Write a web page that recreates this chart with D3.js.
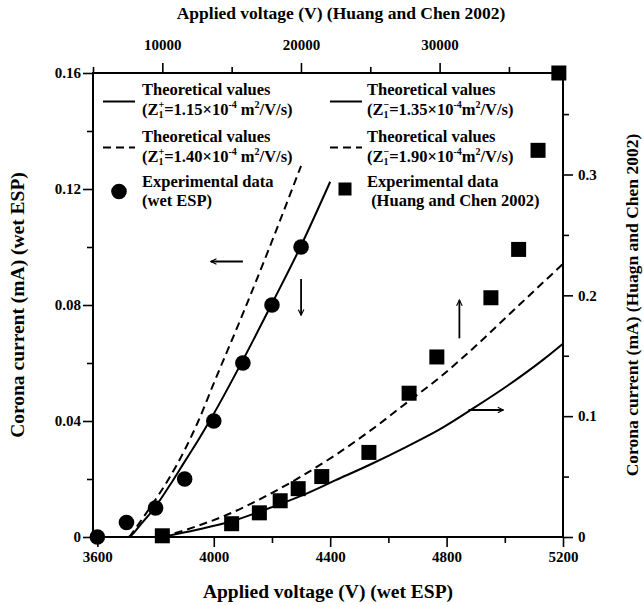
<!DOCTYPE html>
<html><head><meta charset="utf-8">
<script src="https://cdn.jsdelivr.net/npm/d3@7/dist/d3.min.js"></script>
<style>
html,body{margin:0;padding:0;background:#fff;}
svg text{font-family:"Liberation Serif","Times New Roman",serif;font-weight:bold;fill:#000;}
</style></head>
<body>
<svg id="chart" width="644" height="605"></svg>
<script>
// ---- data ----
// wet ESP (bottom axis V, left axis mA)
const wetV = [3600, 3700, 3800, 3900, 4000, 4100, 4200, 4300];
const wetI = [0, 0.005, 0.01, 0.02, 0.04, 0.06, 0.08, 0.10];
// theoretical wet, Z=1.15e-4 (solid)
const wetSolidV = [3600, 3705, 3750, 3800, 3850, 3900, 3950, 4000, 4100, 4200, 4300, 4400];
const wetSolidI = [0, 0, 0.0045, 0.0105, 0.018, 0.026, 0.034, 0.0425, 0.061, 0.0805, 0.1005, 0.1225];
// theoretical wet, Z=1.40e-4 (dashed)
const wetDashV = [3710, 3780, 3845, 3900, 3947, 4000, 4100, 4200, 4300];
const wetDashI = [0, 0.01, 0.02, 0.03, 0.04, 0.053, 0.077, 0.102, 0.128];
// Huang and Chen 2002 (top axis V, right axis mA)
const hcV = [10000, 15000, 17000, 18500, 19800, 21500, 24900, 27800, 29800, 33700, 35700, 37100, 38600];
const hcI = [0.001, 0.011, 0.020, 0.030, 0.040, 0.050, 0.070, 0.119, 0.149, 0.198, 0.238, 0.320, 0.384];
// theoretical HC, Z=1.35e-4 (solid)
const hcSolidV = [10000, 12500, 15000, 17500, 20000, 22500, 25000, 27500, 30000, 32500, 35000, 37500, 38900];
const hcSolidI = [0.000, 0.006, 0.013, 0.023, 0.034, 0.047, 0.060, 0.074, 0.089, 0.107, 0.126, 0.147, 0.160];
// theoretical HC, Z=1.90e-4 (dashed)
const hcDashV = [10000, 12500, 15000, 17500, 20000, 22500, 25000, 27500, 30000, 32500, 35000, 37500, 38900];
const hcDashI = [0.000, 0.009, 0.020, 0.034, 0.050, 0.068, 0.088, 0.110, 0.132, 0.157, 0.184, 0.211, 0.226];
// ticks
const bottomTicks = [3600, 4000, 4400, 4800, 5200];
const bottomMinor = [3800, 4200, 4600, 5000];
const topTicks = [10000, 20000, 30000];
const topMinor = [5000, 15000, 25000, 35000];
const leftTicks = [0, 0.04, 0.08, 0.12, 0.16];
const leftMinor = [0.02, 0.06, 0.10, 0.14];
const rightTicks = [0, 0.1, 0.2, 0.3];
const rightMinor = [0.05, 0.15, 0.25, 0.35];
// arrows (bottom-V / left-I coordinates): [x1,y1,x2,y2]
const arrows = [
  [4100, 0.095, 3990, 0.095],
  [4300, 0.089, 4300, 0.0765],
  [4844, 0.0685, 4844, 0.0817],
  [4875, 0.0438, 4995, 0.0438]
];

// ---- layout ----
const L = 93, R = 563, T = 73, B = 537;
const svg = d3.select("#chart");
const x = d3.scaleLinear().domain([3585, 5200]).range([L, R]);
const xTop = d3.scaleLinear().domain([5000, 38900]).range([L, R]);
const y = d3.scaleLinear().domain([0, 0.16]).range([B, T]);
const yR = d3.scaleLinear().domain([0, 0.384]).range([B, T]);

const fmtLeft = d => d === 0 ? "0" : d3.format(".2f")(d);
const fmtRight = d => d === 0 ? "0" : d3.format(".1f")(d);

function styleAxis(g){
  g.selectAll(".domain").remove();
  g.selectAll(".tick line").attr("stroke","#000").attr("stroke-width",1.6);
  g.selectAll(".tick text").attr("font-size","15px").attr("font-family",'"Liberation Serif",serif').attr("font-weight","bold");
}
// major + minor axes
svg.append("g").attr("transform",`translate(0,${B})`)
  .call(d3.axisBottom(x).tickValues(bottomTicks).tickSize(10).tickPadding(4).tickFormat(d3.format("d"))).call(styleAxis);
svg.append("g").attr("transform",`translate(0,${B})`)
  .call(d3.axisBottom(x).tickValues(bottomMinor).tickSize(6).tickFormat("")).call(styleAxis);
svg.append("g").attr("transform",`translate(0,${T})`)
  .call(d3.axisTop(xTop).tickValues(topTicks).tickSize(10).tickPadding(13).tickFormat(d3.format("d"))).call(styleAxis);
svg.append("g").attr("transform",`translate(0,${T})`)
  .call(d3.axisTop(xTop).tickValues(topMinor).tickSize(6).tickFormat("")).call(styleAxis);
svg.append("g").attr("transform",`translate(${L},0)`)
  .call(d3.axisLeft(y).tickValues(leftTicks).tickSize(10).tickPadding(2).tickFormat(fmtLeft)).call(styleAxis);
svg.append("g").attr("transform",`translate(${L},0)`)
  .call(d3.axisLeft(y).tickValues(leftMinor).tickSize(6).tickFormat("")).call(styleAxis);
svg.append("g").attr("transform",`translate(${R},0)`)
  .call(d3.axisRight(yR).tickValues(rightTicks).tickSize(10).tickPadding(5).tickFormat(fmtRight)).call(styleAxis);
svg.append("g").attr("transform",`translate(${R},0)`)
  .call(d3.axisRight(yR).tickValues(rightMinor).tickSize(6).tickFormat("")).call(styleAxis);

// frame
svg.append("rect").attr("x",L).attr("y",T).attr("width",R-L).attr("height",B-T)
  .attr("fill","none").attr("stroke","#000").attr("stroke-width",2);

// curves
const zip = (a,b)=>a.map((v,i)=>[v,b[i]]);
const lineB = d3.line().curve(d3.curveMonotoneX).x(d=>x(d[0])).y(d=>y(d[1]));
const lineT = d3.line().curve(d3.curveMonotoneX).x(d=>xTop(d[0])).y(d=>yR(d[1]));
svg.append("path").attr("d", lineB(zip(wetSolidV,wetSolidI)))
  .attr("fill","none").attr("stroke","#000").attr("stroke-width",2);
svg.append("path").attr("d", lineB(zip(wetDashV,wetDashI)))
  .attr("fill","none").attr("stroke","#000").attr("stroke-width",2).attr("stroke-dasharray","8,5");
svg.append("path").attr("d", lineT(zip(hcSolidV,hcSolidI)))
  .attr("fill","none").attr("stroke","#000").attr("stroke-width",2);
svg.append("path").attr("d", lineT(zip(hcDashV,hcDashI)))
  .attr("fill","none").attr("stroke","#000").attr("stroke-width",2).attr("stroke-dasharray","8,5");

// points
svg.selectAll("circle.wet").data(zip(wetV,wetI)).enter().append("circle")
  .attr("cx",d=>x(d[0])).attr("cy",d=>y(d[1])).attr("r",7.8).attr("fill","#000");
const S = 15;
svg.selectAll("rect.hc").data(zip(hcV,hcI)).enter().append("rect")
  .attr("x",d=>xTop(d[0])-S/2).attr("y",d=>yR(d[1])-S/2).attr("width",S).attr("height",S).attr("fill","#000");

// arrows
const defs = svg.append("defs");
defs.append("marker").attr("id","ah").attr("viewBox","0 0 10 10").attr("refX",9).attr("refY",5)
  .attr("markerWidth",7).attr("markerHeight",7).attr("markerUnits","userSpaceOnUse").attr("orient","auto")
  .append("path").attr("d","M1,1 L9,5 L1,9").attr("fill","none").attr("stroke","#000").attr("stroke-width",1.6);
arrows.forEach(a=>{
  svg.append("line").attr("x1",x(a[0])).attr("y1",y(a[1])).attr("x2",x(a[2])).attr("y2",y(a[3]))
    .attr("stroke","#000").attr("stroke-width",1.8).attr("marker-end","url(#ah)");
});

// legend
const fs = 16.5;
function zText(g, xx, yy, sign, val, sp){
  const t = g.append("text").attr("x",xx).attr("y",yy).attr("font-size",fs+"px");
  t.append("tspan").text("(Z");
  t.append("tspan").attr("font-size","10px").attr("dy",3).text("1");
  t.append("tspan").attr("font-size","10px").attr("dx",-5).attr("dy",-10).text(sign);
  t.append("tspan").attr("dy",7).text("=" + val + "\u00d710");
  t.append("tspan").attr("font-size","10px").attr("dy",-7).text("-4");
  t.append("tspan").attr("dy",7).text(sp + "m");
  t.append("tspan").attr("font-size","10px").attr("dy",-7).text("2");
  t.append("tspan").attr("dy",7).text("/V/s)");
}
const lg = svg.append("g");
// left column
lg.append("line").attr("x1",103).attr("x2",135).attr("y1",101.5).attr("y2",101.5).attr("stroke","#000").attr("stroke-width",2);
lg.append("text").attr("x",142).attr("y",95).attr("font-size",fs+"px").text("Theoretical values");
zText(lg,142,115,"+","1.15"," ");
lg.append("line").attr("x1",103).attr("x2",135).attr("y1",147.5).attr("y2",147.5).attr("stroke","#000").attr("stroke-width",2).attr("stroke-dasharray","8,5");
lg.append("text").attr("x",142).attr("y",141.5).attr("font-size",fs+"px").text("Theoretical values");
zText(lg,142,161.5,"+","1.40"," ");
lg.append("circle").attr("cx",119).attr("cy",191.5).attr("r",7.8).attr("fill","#000");
lg.append("text").attr("x",142).attr("y",187).attr("font-size",fs+"px").text("Experimental data");
lg.append("text").attr("x",142).attr("y",206).attr("font-size",fs+"px").text("(wet ESP)");
// right column
lg.append("line").attr("x1",330).attr("x2",362).attr("y1",101.5).attr("y2",101.5).attr("stroke","#000").attr("stroke-width",2);
lg.append("text").attr("x",367).attr("y",95).attr("font-size",fs+"px").text("Theoretical values");
zText(lg,367,115,"\u2212","1.35","");
lg.append("line").attr("x1",330).attr("x2",362).attr("y1",147.5).attr("y2",147.5).attr("stroke","#000").attr("stroke-width",2).attr("stroke-dasharray","8,5");
lg.append("text").attr("x",367).attr("y",141.5).attr("font-size",fs+"px").text("Theoretical values");
zText(lg,367,161.5,"\u2212","1.90","");
lg.append("rect").attr("x",345-6.5).attr("y",189-6.5).attr("width",13).attr("height",13).attr("fill","#000");
lg.append("text").attr("x",367).attr("y",187).attr("font-size",fs+"px").text("Experimental data");
lg.append("text").attr("x",367).attr("y",206).attr("font-size",fs+"px").text("\u00a0(Huang and Chen 2002)");

// axis titles
svg.append("text").attr("x",(L+R)/2).attr("y",598).attr("text-anchor","middle").attr("font-size","19.5px").text("Applied voltage (V) (wet ESP)");
svg.append("text").attr("x",(L+R)/2 + 13).attr("y",19).attr("text-anchor","middle").attr("font-size","17.5px").text("Applied voltage (V) (Huang and Chen 2002)");
svg.append("text").attr("transform",`translate(24,${(T+B)/2}) rotate(-90)`).attr("text-anchor","middle").attr("font-size","19.5px").text("Corona current (mA) (wet ESP)");
svg.append("text").attr("transform",`translate(638,${(T+B)/2}) rotate(-90)`).attr("text-anchor","middle").attr("font-size","17.5px").text("Corona current (mA) (Huagn and Chen 2002)");
</script>
</body></html>
